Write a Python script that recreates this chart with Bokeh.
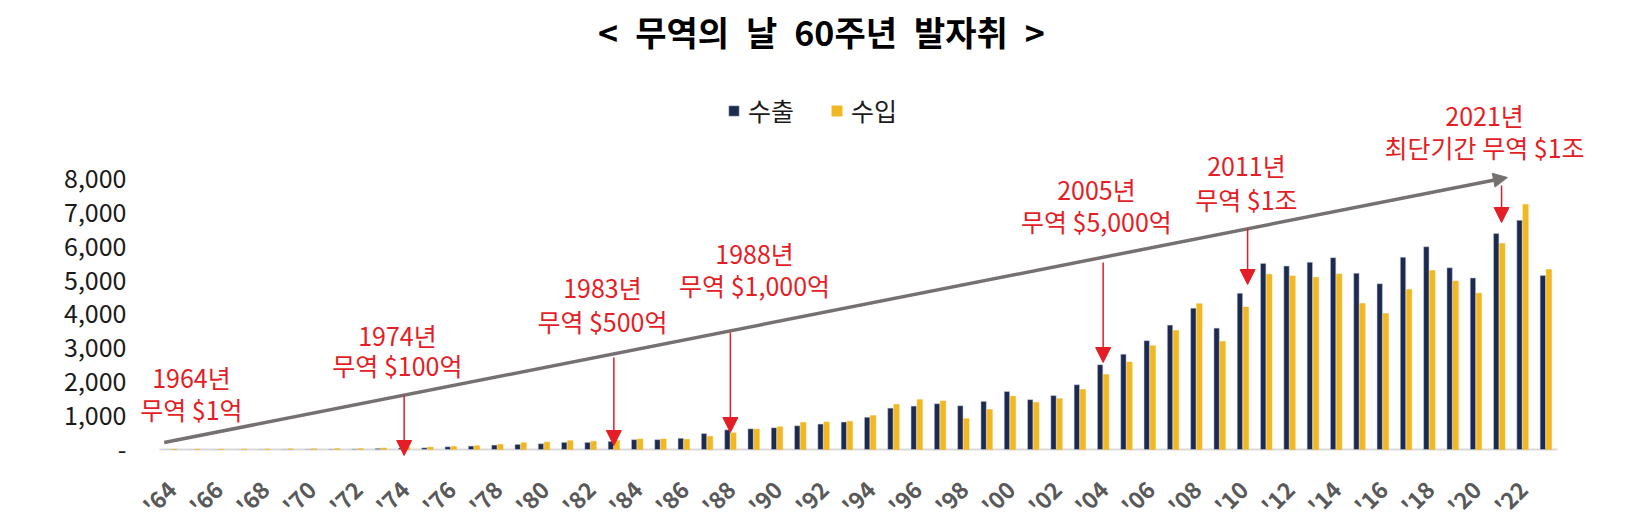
from math import pi
from bokeh.plotting import figure
from bokeh.models import (Range1d, FixedTicker, Arrow, NormalHead, Label, Legend,
                          LegendItem, NumeralTickFormatter, ColumnDataSource)
from bokeh.core.properties import value
from bokeh.transform import dodge
from bokeh.embed import file_html
from bokeh.resources import INLINE

# ---------------- data (단위: 억 달러) ----------------
years = list(range(1964, 2024))
exports = [1, 2, 3, 3, 5, 6, 8, 11, 16, 32,
           45, 50, 80, 100, 130, 150, 170, 210, 210, 240,
           290, 290, 330, 470, 580, 610, 640, 700, 750, 810,
           950, 1220, 1280, 1350, 1290, 1420, 1710, 1470, 1590, 1910,
           2500, 2810, 3210, 3670, 4170, 3580, 4610, 5490, 5410, 5520,
           5660, 5200, 4890, 5670, 5980, 5360, 5060, 6370, 6760, 5130]
imports = [4, 5, 7, 10, 15, 18, 20, 24, 25, 42,
           69, 70, 90, 110, 150, 200, 220, 260, 240, 260,
           310, 310, 300, 390, 490, 600, 670, 800, 810, 830,
           1000, 1330, 1470, 1430, 910, 1180, 1570, 1390, 1500, 1770,
           2210, 2580, 3060, 3510, 4300, 3190, 4200, 5170, 5120, 5080,
           5180, 4310, 4010, 4720, 5280, 4970, 4610, 6080, 7230, 5310]
tick_years = list(range(1964, 2023, 2))
tick_labels = ["'64", "'66", "'68", "'70", "'72", "'74", "'76", "'78", "'80", "'82",
               "'84", "'86", "'88", "'90", "'92", "'94", "'96", "'98", "'00", "'02",
               "'04", "'06", "'08", "'10", "'12", "'14", "'16", "'18", "'20", "'22"]
y_ticks = [0, 1000, 2000, 3000, 4000, 5000, 6000, 7000, 8000]
series_names = ["수출", "수입"]
title_text = "<\u2002무역의\u2002날\u200260주년\u2002발자취\u2002>"
notes = [
    ("1964년", "무역 $1억"),
    ("1974년", "무역 $100억"),
    ("1983년", "무역 $500억"),
    ("1988년", "무역 $1,000억"),
    ("2005년", "무역 $5,000억"),
    ("2011년", "무역 $1조"),
    ("2021년", "최단기간 무역 $1조"),
]

# ---------------- style ----------------
NAVY = "#1c2a50"
GOLD = "#f1b824"
RED = "#e31e26"
GREY = "#767171"
FONT = "Noto Sans CJK KR"

src = ColumnDataSource(dict(year=years, exp=exports, imp=imports))
tick_src = ColumnDataSource(dict(x=tick_years, y=[-1032] * len(tick_years),
                                 t=tick_labels))

p = figure(width=1645, height=529, output_backend="svg", toolbar_location=None,
           x_range=Range1d(1962.255, 2027.277), y_range=Range1d(-2360, 13245),
           x_axis_location=None,
           min_border_left=130, min_border_right=0, min_border_top=0,
           min_border_bottom=0)
p.grid.visible = False
p.outline_line_color = None
p.background_fill_color = "white"
p.border_fill_color = "white"

r_exp = p.vbar(x=dodge("year", -0.13, range=p.x_range), top="exp", width=0.23,
               source=src, fill_color=NAVY, line_color="#c9cedb", line_width=0.5)
r_imp = p.vbar(x=dodge("year", 0.13, range=p.x_range), top="imp", width=0.23,
               source=src, fill_color=GOLD, line_color=GOLD, line_width=0.5)

# baseline (category axis line)
p.line(x=[years[0] - 0.5, years[-1] + 0.5], y=[0, 0], line_color="#d9d9d9",
       line_width=2, level="underlay")

# x tick labels, rotated 45 degrees
p.text(x="x", y="y", text="t", source=tick_src, angle=pi / 4,
       text_align="right", text_baseline="middle", text_font=value(FONT),
       text_font_style="bold", text_font_size="23px", text_color="#595959")

# y axis
ya = p.yaxis[0]
ya.ticker = FixedTicker(ticks=y_ticks)
ya.formatter = NumeralTickFormatter(format="0,0")
ya.major_label_overrides = {0: "-"}
ya.axis_line_color = None
ya.major_tick_line_color = None
ya.minor_tick_line_color = None
ya.major_tick_in = 0
ya.major_tick_out = 0
ya.major_label_standoff = 4
ya.major_label_text_font = FONT
ya.major_label_text_font_size = "25px"
ya.major_label_text_color = "#1a1a1a"

# title
p.add_layout(Label(x=1991.91, y=12330, text=title_text, text_align="center",
                   text_baseline="middle", text_font=FONT, text_font_style="bold",
                   text_font_size="34px", text_color="black"))

# legend
legend = Legend(items=[LegendItem(label=series_names[0], renderers=[r_exp]),
                       LegendItem(label=series_names[1], renderers=[r_imp])],
                orientation="horizontal", location=(597, 401),
                glyph_width=13, glyph_height=13, label_standoff=8, spacing=36,
                padding=0, margin=0, border_line_color=None,
                background_fill_alpha=0,
                label_text_font=FONT, label_text_font_size="25px",
                label_text_color="#1a1a1a")
p.add_layout(legend)

# big grey trend arrow
p.add_layout(Arrow(end=NormalHead(size=14, fill_color=GREY, line_color=GREY),
                   x_start=1963.7, y_start=206, x_end=2021.35, y_end=8024,
                   line_color=GREY, line_width=3.5))

# annotation texts (center x in years, line1 y, line2 y in data units)
note_pos = [(1964.87, 2124, 1209), (1973.71, 3392, 2478), (1982.51, 4779, 3805),
            (1989.04, 5811, 4838), (2003.71, 7699, 6755), (2010.15, 8378, 7404),
            (2020.37, 9853, 8909)]
for (l1, l2), (nx, ny1, ny2) in zip(notes, note_pos):
    for t, ny in ((l1, ny1), (l2, ny2)):
        p.add_layout(Label(x=nx, y=ny, text=t, text_align="center",
                           text_baseline="middle", text_font=FONT,
                           text_font_size="25px", text_color=RED))

# red arrows (x position, start y, tip y)
red_arrows = [(1974.0, 1593, -177), (1983.0, 2714, 118), (1988.0, 3451, 501),
              (2004.0, 5516, 2566), (2010.2, 6519, 4867), (2021.1, 7788, 6696)]
for ax, ys, ye in red_arrows:
    p.add_layout(Arrow(end=NormalHead(size=15, fill_color=RED, line_color=RED),
                       x_start=ax, y_start=ys, x_end=ax, y_end=ye,
                       line_color=RED, line_width=1.5))

open("out.html", "w").write(file_html(p, INLINE))
